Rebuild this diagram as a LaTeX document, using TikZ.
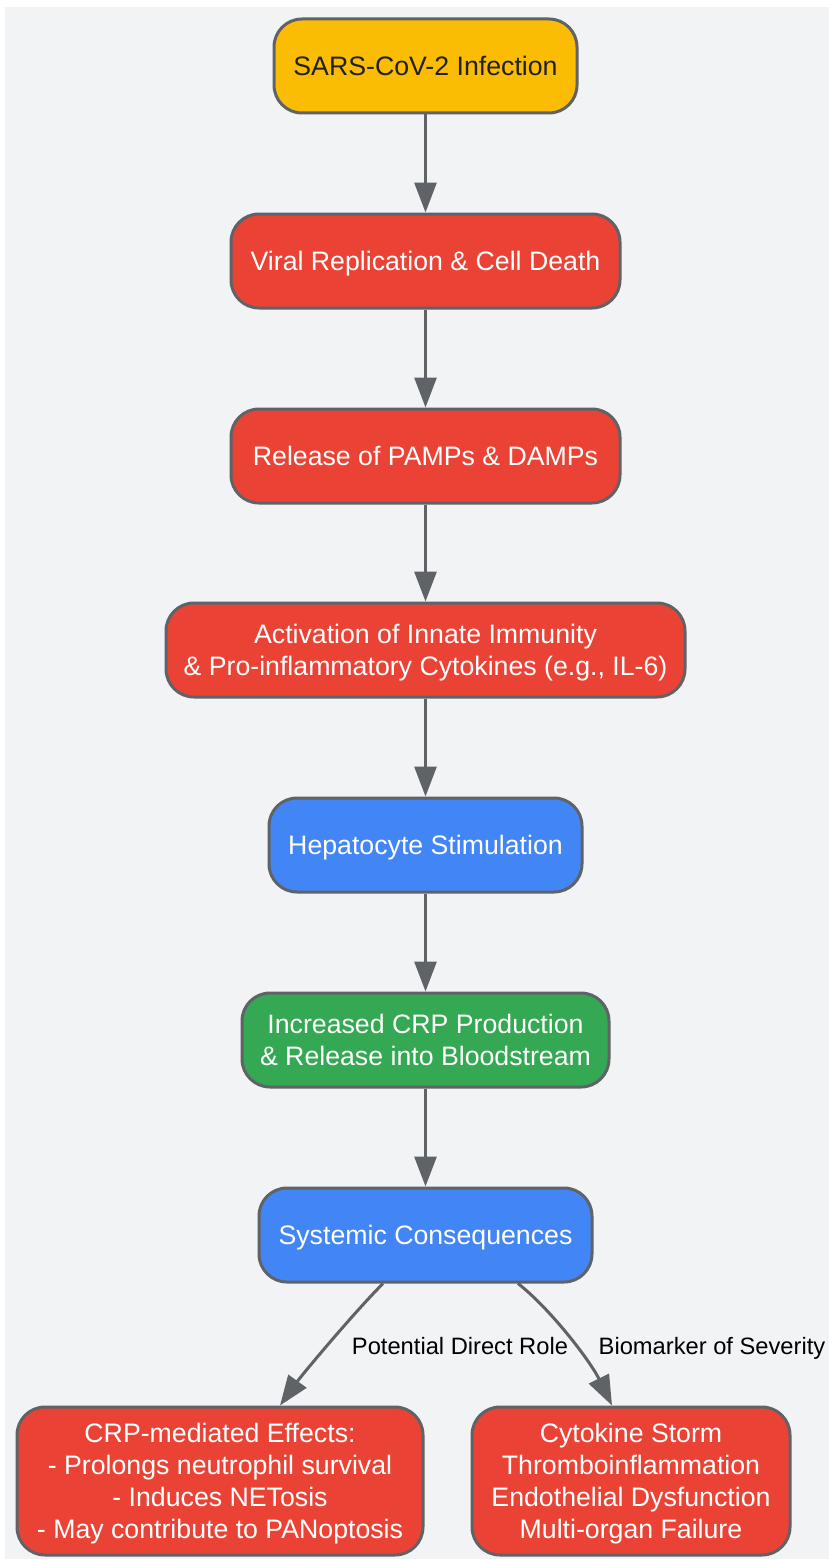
\documentclass[tikz,border=0pt]{standalone}
\usepackage{fontspec}
\setmainfont{Liberation Sans}
\usetikzlibrary{arrows.meta,calc}
\definecolor{bgcol}{HTML}{F1F3F4}
\definecolor{edgecol}{HTML}{5F6368}
\definecolor{gyellow}{HTML}{FBBC04}
\definecolor{gred}{HTML}{EA4335}
\definecolor{gblue}{HTML}{4285F4}
\definecolor{ggreen}{HTML}{34A853}
\definecolor{darktext}{HTML}{202124}
\newcommand{\ls}{\rule[-0.212em]{0pt}{1.117em}}
\begin{document}
\begin{tikzpicture}[x=1pt,y=-1pt,
  box/.style={draw=edgecol, line width=3pt, rounded corners=28pt, inner sep=0pt,
    align=center, font=\fontsize{26.7}{32}\selectfont, text=white,
    execute at begin node=\ls, execute at end node=\ls},
  conn/.style={draw=edgecol, line width=3pt, -{Triangle[length=30pt,width=22pt]}},
  lbl/.style={font=\fontsize{23.7}{28}\selectfont, text=black, inner sep=0pt,
    execute at begin node=\ls}]
\useasboundingbox (0,0) rectangle (829,1560);
\fill[bgcol] (5,7) rectangle (829,1559);

\node[box, fill=gyellow, text=darktext, minimum width=303pt, minimum height=94pt] (n1) at (425.5,66) {SARS-CoV-2 Infection};
\node[box, fill=gred, minimum width=389pt, minimum height=94pt] (n2) at (425.5,261) {Viral Replication \& Cell Death};
\node[box, fill=gred, minimum width=389pt, minimum height=94pt] (n3) at (425.5,456) {Release of PAMPs \& DAMPs};
\node[box, fill=gred, minimum width=519pt, minimum height=94pt] (n4) at (425.5,650) {\ls Activation of Innate Immunity\\\& Pro-inflammatory Cytokines (e.g., IL-6)\ls};
\node[box, fill=gblue, minimum width=313pt, minimum height=94pt] (n5) at (425.5,845) {Hepatocyte Stimulation};
\node[box, fill=ggreen, minimum width=367pt, minimum height=94pt] (n6) at (425.5,1040) {\ls Increased CRP Production\\\& Release into Bloodstream\ls};
\node[box, fill=gblue, minimum width=333pt, minimum height=94pt] (n7) at (425.5,1235) {Systemic Consequences};
\node[box, fill=gred, minimum width=406pt, minimum height=148pt] (n8) at (220,1481) {\ls CRP-mediated Effects:\\- Prolongs neutrophil survival\\- Induces NETosis\\- May contribute to PANoptosis\ls};
\node[box, fill=gred, minimum width=318pt, minimum height=148pt] (n9) at (631,1481) {\ls Cytokine Storm\\Thromboinflammation\\Endothelial Dysfunction\\Multi-organ Failure\ls};

\draw[conn] (n1) -- (n2);
\draw[conn] (n2) -- (n3);
\draw[conn] (n3) -- (n4);
\draw[conn] (n4) -- (n5);
\draw[conn] (n5) -- (n6);
\draw[conn] (n6) -- (n7);

\coordinate (s1) at ($(n7.south)+(-42.5,0)$);
\coordinate (e1) at ($(n8.north)+(60,0)$);
\coordinate (s2) at ($(n7.south)+(92.5,0)$);
\coordinate (e2) at ($(n9.north)+(-19,0)$);
\draw[conn] (s1) .. controls ($(s1)+(-28,28)$) and ($(e1)+(23,-32)$) .. (e1);
\draw[conn] (s2) .. controls ($(s2)+(32,25)$) and ($(e2)+(-22,-45)$) .. (e2);

\node[lbl] (l1) at (460,1346) {Potential Direct Role};
\node[lbl] (l2) at (712,1346) {Biomarker of Severity};
\end{tikzpicture}
\end{document}
